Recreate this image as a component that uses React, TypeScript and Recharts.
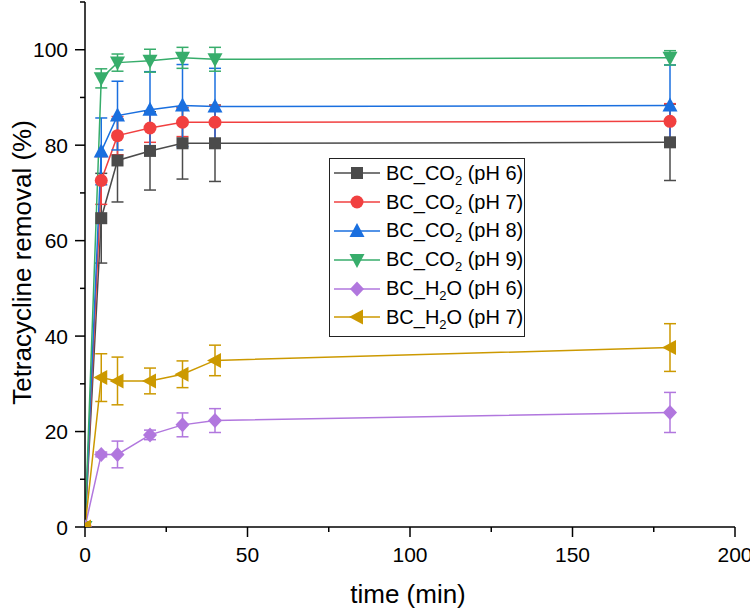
import React from "react";
import { ComposedChart, Line, XAxis, YAxis, ErrorBar, Legend } from "recharts";

// sampling times (min)
const times = [0, 5, 10, 20, 30, 40, 180];

// tetracycline removal (%) and error bars
const co2Ph6 = [0, 64.7, 76.8, 78.8, 80.4, 80.4, 80.6];
const co2Ph6Err = [0, 9.4, 8.7, 8.2, 7.5, 8, 8];
const co2Ph7 = [0, 72.6, 82.0, 83.6, 84.8, 84.8, 85.0];
const co2Ph7Err = [0, 5, 4, 3, 3, 3.5, 3.7];
const co2Ph8 = [0, 78.7, 86.2, 87.4, 88.3, 88.1, 88.3];
const co2Ph8Err = [0, 7, 7.2, 8, 8.6, 8, 8.5];
const co2Ph9 = [0, 94.0, 97.3, 97.7, 98.3, 98.0, 98.3];
const co2Ph9Err = [0, 2, 1.8, 2.4, 2.2, 2.5, 1.5];
const h2oPh6 = [0, 15.2, 15.2, 19.3, 21.4, 22.3, 24.0];
const h2oPh6Err = [0, 0.5, 2.8, 1.0, 2.5, 2.5, 4.2];
const h2oPh7 = [0, 31.3, 30.6, 30.6, 32.0, 34.9, 37.6];
const h2oPh7Err = [0, 5, 5, 2.7, 2.8, 3.2, 5];

const xTicks = [0, 25, 50, 75, 100, 125, 150, 175, 200];
const yTicks = [0, 10, 20, 30, 40, 50, 60, 70, 80, 90, 100, 110];

const FONT = '"Liberation Sans", Arial, sans-serif';

type Shape = "square" | "circle" | "up" | "down" | "diamond" | "left";

const series: { key: string; base: string; sub: string; ph: string; color: string; shape: Shape; values: number[]; errors: number[] }[] = [
  { key: "s1", base: "BC_CO", sub: "2", ph: "(pH 6)", color: "#4b4b4b", shape: "square", values: co2Ph6, errors: co2Ph6Err },
  { key: "s2", base: "BC_CO", sub: "2", ph: "(pH 7)", color: "#f14040", shape: "circle", values: co2Ph7, errors: co2Ph7Err },
  { key: "s3", base: "BC_CO", sub: "2", ph: "(pH 8)", color: "#1a6fdf", shape: "up", values: co2Ph8, errors: co2Ph8Err },
  { key: "s4", base: "BC_CO", sub: "2", ph: "(pH 9)", color: "#37ad6b", shape: "down", values: co2Ph9, errors: co2Ph9Err },
  { key: "s5", base: "BC_H", sub: "2", ph: "O (pH 6)", color: "#b177de", shape: "diamond", values: h2oPh6, errors: h2oPh6Err },
  { key: "s6", base: "BC_H", sub: "2", ph: "O (pH 7)", color: "#cc9900", shape: "left", values: h2oPh7, errors: h2oPh7Err },
];

const data = times.map((t, i) => {
  const row: Record<string, number> = { t };
  series.forEach((s) => {
    row[s.key] = s.values[i];
    row[s.key + "e"] = s.errors[i];
  });
  return row;
});

const Marker = ({ cx, cy, shape, color }: { cx: number; cy: number; shape: Shape; color: string }) => {
  if (cx == null || cy == null) return null;
  switch (shape) {
    case "square":
      return <rect x={cx - 6} y={cy - 6} width={12} height={12} fill={color} />;
    case "circle":
      return <circle cx={cx} cy={cy} r={6.5} fill={color} />;
    case "up":
      return <polygon points={`${cx},${cy - 8} ${cx + 7.5},${cy + 6} ${cx - 7.5},${cy + 6}`} fill={color} />;
    case "down":
      return <polygon points={`${cx},${cy + 8} ${cx + 7.5},${cy - 6} ${cx - 7.5},${cy - 6}`} fill={color} />;
    case "diamond":
      return <polygon points={`${cx},${cy - 7.5} ${cx + 7},${cy} ${cx},${cy + 7.5} ${cx - 7},${cy}`} fill={color} />;
    default:
      return <polygon points={`${cx - 8},${cy} ${cx + 6},${cy - 7.5} ${cx + 6},${cy + 7.5}`} fill={color} />;
  }
};

const XTick = (props: any) => {
  const { x, y, payload } = props;
  const major = payload.value % 50 === 0;
  return (
    <g>
      <line x1={x} x2={x} y1={y} y2={y + (major ? 10 : 5)} stroke="#000" strokeWidth={1.5} />
      {major && (
        <text x={x} y={y + 35} textAnchor="middle" fontSize={21} fontFamily={FONT} fill="#000">
          {payload.value}
        </text>
      )}
    </g>
  );
};

const YTick = (props: any) => {
  const { x, y, payload } = props;
  const major = payload.value % 20 === 0;
  return (
    <g>
      <line x1={x - (major ? 10 : 5)} x2={x} y1={y} y2={y} stroke="#000" strokeWidth={1.5} />
      {major && (
        <text x={x - 17} y={y} dy="0.36em" textAnchor="end" fontSize={21} fontFamily={FONT} fill="#000">
          {payload.value}
        </text>
      )}
    </g>
  );
};

const LegendBox = () => (
  <div
    style={{
      width: 196,
      height: 179,
      boxSizing: "border-box",
      border: "1px solid #222",
      background: "#fff",
      paddingTop: 0,
      fontFamily: FONT,
      fontSize: 20,
      color: "#000",
    }}
  >
    {series.map((s) => (
      <div key={s.key} style={{ height: 28.8, display: "flex", alignItems: "center", whiteSpace: "nowrap" }}>
        <svg width={50} height={20} style={{ marginLeft: 3, flex: "none" }}>
          <line x1={1} x2={47} y1={10} y2={10} stroke={s.color} strokeWidth={1.5} />
          <Marker cx={24} cy={10} shape={s.shape} color={s.color} />
        </svg>
        <span style={{ marginLeft: 3 }}>
          {s.base}
          <span style={{ fontSize: 13, position: "relative", top: 5 }}>{s.sub}</span>
          {s.ph.startsWith("O") ? s.ph : " " + s.ph}
        </span>
      </div>
    ))}
  </div>
);

const YTitle = (props: any) => {
  const { viewBox } = props;
  const cx = 22;
  const cy = viewBox.y + viewBox.height / 2 - 2;
  return (
    <text
      x={cx}
      y={cy}
      transform={`rotate(-90, ${cx}, ${cy})`}
      textAnchor="middle"
      dy="0.36em"
      fontSize={26}
      fontFamily={FONT}
      fill="#000"
    >
      Tetracycline removal (%)
    </text>
  );
};

const XTitle = (props: any) => {
  const { viewBox } = props;
  return (
    <text
      x={viewBox.x + viewBox.width / 2 - 2}
      y={603}
      textAnchor="middle"
      fontSize={26}
      fontFamily={FONT}
      fill="#000"
    >
      time (min)
    </text>
  );
};

export default function App() {
  return (
    <div style={{ position: "absolute", left: 0, top: 0, background: "#fff" }}>
      <ComposedChart width={750} height={609} data={data} margin={{ top: 2, right: 15, bottom: 0, left: 0 }}>
        {series.map((s) => (
          <Line
            key={s.key}
            dataKey={s.key}
            type="linear"
            stroke={s.color}
            strokeWidth={1.5}
            isAnimationActive={false}
            dot={(p: any) => <Marker key={`${s.key}-${p.index}`} cx={p.cx} cy={p.cy} shape={s.shape} color={s.color} />}
            activeDot={false}
          >
            <ErrorBar dataKey={s.key + "e"} width={6} stroke={s.color} strokeWidth={1.5} direction="y" isAnimationActive={false} />
          </Line>
        ))}
        <XAxis
          dataKey="t"
          type="number"
          domain={[0, 200]}
          ticks={xTicks}
          interval={0}
          allowDataOverflow
          height={82}
          tickSize={0}
          tickMargin={0}
          tickLine={false}
          tick={<XTick />}
          axisLine={{ stroke: "#000", strokeWidth: 1.5 }}
          label={{ content: <XTitle /> }}
        />
        <YAxis
          type="number"
          domain={[0, 110]}
          ticks={yTicks}
          interval={0}
          allowDataOverflow
          width={85}
          tickSize={0}
          tickMargin={0}
          tickLine={false}
          tick={<YTick />}
          axisLine={{ stroke: "#000", strokeWidth: 1.5 }}
          label={{ content: <YTitle /> }}
        />
        <Legend
          layout="vertical"
          align="center"
          verticalAlign="middle"
          content={<LegendBox />}
          wrapperStyle={{ left: 329, top: 158, width: 196, height: 179 }}
        />
      </ComposedChart>
    </div>
  );
}
